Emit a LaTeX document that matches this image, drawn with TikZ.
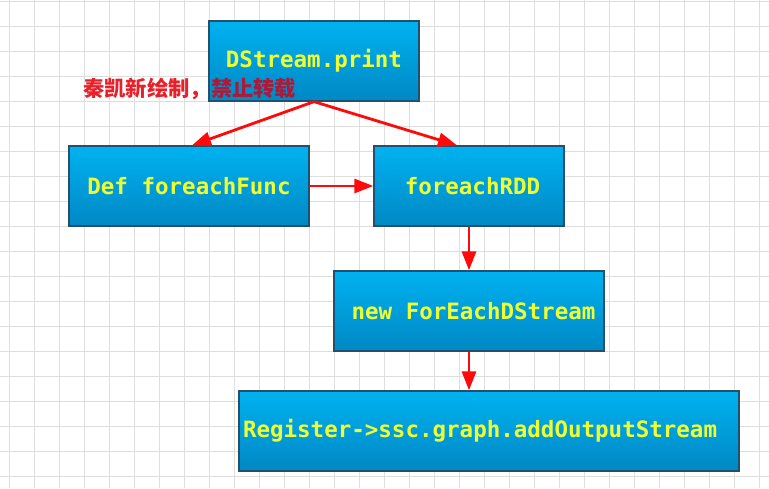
\documentclass[tikz,border=0pt]{standalone}
\usepackage{fontspec}
\setmonofont{DejaVu Sans Mono}
\newfontfamily\cjk{Noto Sans CJK SC}
\usetikzlibrary{arrows.meta,calc}
\definecolor{gridc}{HTML}{DEDEDE}
\definecolor{boxtop}{HTML}{00B2F0}
\definecolor{boxbot}{HTML}{0088C4}
\definecolor{boxline}{HTML}{24506E}
\definecolor{txtc}{HTML}{EEFF33}
\definecolor{arrowc}{HTML}{FF0A0A}
\definecolor{wmred}{HTML}{E8202A}
\definecolor{wmdark}{HTML}{B01838}
\tikzset{
  stepbox/.style={draw=boxline, line width=1.3pt, top color=boxtop, bottom color=boxbot,
    rectangle, inner sep=0pt, minimum height=80pt, text=txtc,
    font=\ttfamily\bfseries\fontsize{22.5}{27}\selectfont},
  flow/.style={draw=arrowc, line width=2.8pt, -{Triangle[length=19pt,width=14pt]}}
}
\begin{document}
\begin{tikzpicture}[x=1pt,y=-1pt]
\useasboundingbox (0,0) rectangle (769,488);
\fill[white] (0,0) rectangle (769,488);
% grid
\foreach \gx in {9,34,...,769} \draw[gridc, line width=1pt] (\gx,0) -- (\gx,488);
\foreach \gy in {1,26,...,488} \draw[gridc, line width=1pt] (0,\gy) -- (769,\gy);
% boxes
\node[stepbox, minimum width=210pt] (print) at (314,61) {DStream.print};
\node[stepbox, minimum width=240pt] (def) at (189,186) {Def foreachFunc};
\node[stepbox, minimum width=190pt] (rdd) at (469,186) {\hspace*{7pt}foreachRDD};
\node[stepbox, minimum width=270pt] (fe) at (469,311) {\hspace*{9pt}new ForEachDStream};
\node[stepbox, minimum width=500pt, text width=492pt, inner xsep=4pt, align=left] (reg) at (489,431) {Register->ssc.graph.addOutputStream};
% watermark
\node[anchor=west, inner sep=0pt, font=\cjk\bfseries\fontsize{21.3}{25}\selectfont] (wm) at (83,89) {\textcolor{wmred}{秦凯新绘制，}\textcolor{wmdark}{禁止转载}};
% arrows
\draw[flow] (print.south) -- ($(def.north)+(3,0)$);
\draw[flow] (print.south) -- ($(rdd.north)+(-12,0)$);
\draw[flow] (def.east) -- (rdd.west);
\draw[flow] (rdd.south) -- (fe.north);
\draw[flow] (fe.south) -- (reg.north -| fe.south);
\end{tikzpicture}
\end{document}
